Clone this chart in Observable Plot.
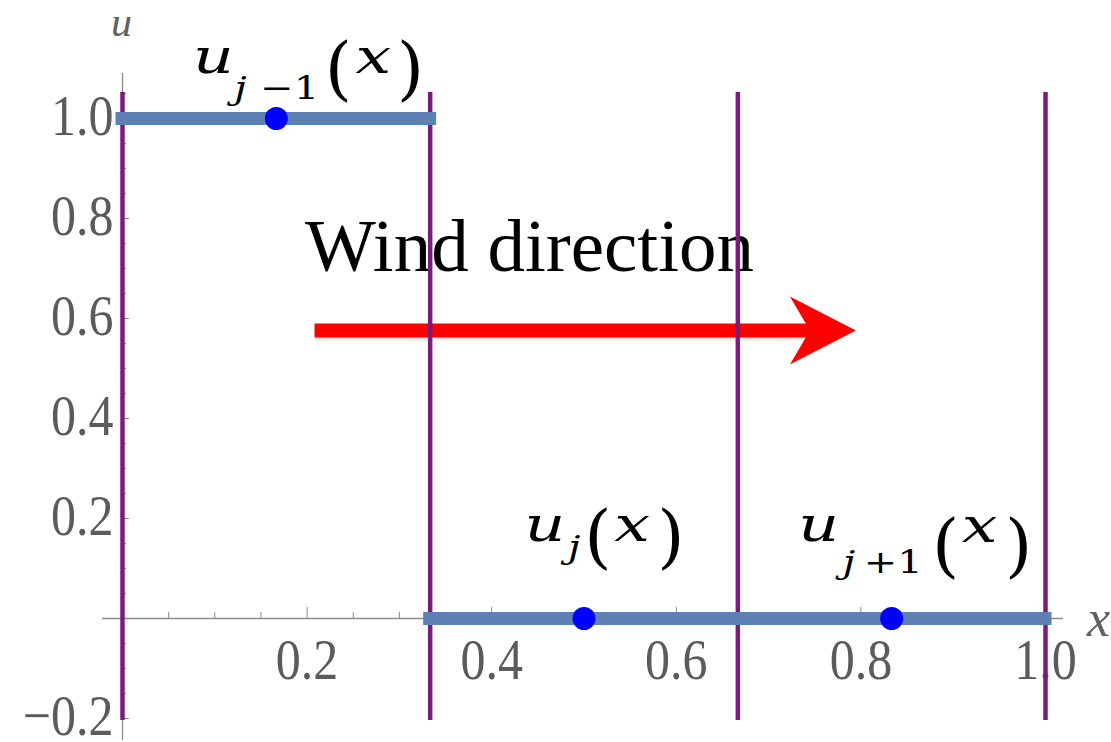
<!DOCTYPE html>
<html>
<head>
<meta charset="utf-8">
<script src="https://cdn.jsdelivr.net/npm/d3@7"></script>
<script src="https://cdn.jsdelivr.net/npm/@observablehq/plot@0.6"></script>
<style>
  body { margin: 0; background: #fff; }
  svg { display: block; }
</style>
</head>
<body>
<div id="chart"></div>
<script>
// Piecewise-constant solution on a uniform three-cell grid
const cellEdges = [0, 1/3, 2/3, 1];
const cellValues = [1, 0, 0];
const cellSubscripts = ["j−1", "j", "j+1"];

// Axis ticks
const xTickValues = [0.2, 0.4, 0.6, 0.8, 1.0];
const xTickLabels = ["0.2", "0.4", "0.6", "0.8", "1.0"];
const yTickValues = [-0.2, 0, 0.2, 0.4, 0.6, 0.8, 1.0];
const yTickLabels = ["−0.2", "", "0.2", "0.4", "0.6", "0.8", "1.0"];

// Wind arrow (start, tip, height in data units)
const windArrow = [{from: 0.2086, to: 0.7946, u: 0.576}];
const windText = "Wind direction";

const W = 1111, H = 742;
const ml = 122, mr = 66, mt = 118, mb = 24;
const xDomain = [0, 1], yDomain = [-0.2, 1];
const pxX = (xDomain[1] - xDomain[0]) / (W - ml - mr);
const pxY = (yDomain[1] - yDomain[0]) / (H - mt - mb);

const cells = cellValues.map((v, i) => ({
  x1: cellEdges[i],
  x2: cellEdges[i + 1],
  xc: (cellEdges[i] + cellEdges[i + 1]) / 2,
  u: v,
  sub: cellSubscripts[i]
}));

const xMinor = d3.range(1, 21).map(i => i / 20).filter(v => !xTickValues.some(t => Math.abs(t - v) < 1e-9));
const yMinor = d3.range(-4, 22).map(i => i / 20).filter(v => !yTickValues.some(t => Math.abs(t - v) < 1e-9));

const serif = "'Liberation Serif', 'Times New Roman', Times, serif";
const mathFont = "'DejaVu Serif', serif";
const axisGray = "#8a8a8a";
const labelGray = "#5b5b5b";
const purple = "#7b1c7c";
const stepBlue = "#5e81b5";
// near-black inks used to pick out the wide math glyphs after rendering
const mathInk = "#000001";
const subInk = "#000002";

// Filled arrowhead with a notched back, tip at the origin
const arrowHead = {
  draw(ctx) {
    ctx.moveTo(0, 0);
    ctx.lineTo(-66, -34);
    ctx.lineTo(-46, 0);
    ctx.lineTo(-66, 34);
    ctx.closePath();
  }
};

// Offsets (px) of the label pieces relative to each cell's dot
const labelLayout = [
  {u: [-63, -46], j: [-42, -20], op: [-16, -20], lp: [62, -27], x: [97, -46], rp: [134, -27]},
  {u: [-39, -78], j: [-16, -61], op: null,       lp: [14, -59], x: [48, -78], rp: [87, -59]},
  {u: [-73, -78], j: [-49, -46], op: [-28, -46], lp: [54, -50], x: [88, -77], rp: [127, -50]}
];

const labelMarks = cells.flatMap((c, i) => {
  const L = labelLayout[i];
  const base = {x: "xc", y: "u", fontFamily: mathFont, lineAnchor: "bottom"};
  const marks = [
    Plot.text([c], {...base, text: () => "u", dx: L.u[0], dy: L.u[1], fontSize: 48, fontStyle: "italic", fill: mathInk}),
    Plot.text([c], {...base, text: d => d.sub[0], dx: L.j[0], dy: L.j[1], fontSize: 32, fontStyle: "italic", textAnchor: "start", fill: subInk}),
    Plot.text([c], {...base, text: () => "(", dx: L.lp[0], dy: L.lp[1], fontSize: 70, fill: "#000"}),
    Plot.text([c], {...base, text: () => "x", dx: L.x[0], dy: L.x[1], fontSize: 48, fontStyle: "italic", fill: mathInk}),
    Plot.text([c], {...base, text: () => ")", dx: L.rp[0], dy: L.rp[1], fontSize: 70, fill: "#000"})
  ];
  if (L.op) {
    marks.push(Plot.text([c], {...base, text: d => d.sub.slice(1), dx: L.op[0], dy: L.op[1], fontSize: 32, textAnchor: "start", fill: subInk}));
  }
  return marks;
});

const chart = Plot.plot({
  width: W,
  height: H,
  marginLeft: ml,
  marginRight: mr,
  marginTop: mt,
  marginBottom: mb,
  style: {background: "#fff", overflow: "visible"},
  x: {domain: xDomain, axis: null},
  y: {domain: yDomain, axis: null},
  marks: [
    // wind arrow and its caption
    Plot.ruleY(windArrow, {y: "u", x1: "from", x2: d => d.to - 44 * pxX, stroke: "#000", strokeOpacity: 0.1, strokeWidth: 10, dy: 5}),
    Plot.ruleY(windArrow, {y: "u", x1: "from", x2: d => d.to - 44 * pxX, stroke: "#ff0000", strokeWidth: 14}),
    Plot.dot(windArrow, {x: "to", y: "u", symbol: arrowHead, fill: "#ff0000", stroke: "none", r: 10}),
    Plot.text(windArrow, {x: "from", y: "u", text: () => windText, dx: -10, dy: -60, textAnchor: "start", lineAnchor: "bottom",
      fontFamily: serif, fontSize: 75, fill: "#000"}),

    // axes through the origin
    Plot.ruleY([0], {x1: -20 * pxX, x2: 1 + 18 * pxX, stroke: axisGray, strokeWidth: 1.3}),
    Plot.ruleX([0], {y1: -0.2 - 22 * pxY, y2: 1 + 45 * pxY, stroke: axisGray, strokeWidth: 1.3}),
    Plot.ruleX(xMinor, {x: d => d, y1: 0, y2: 6 * pxY, stroke: axisGray, strokeWidth: 1}),
    Plot.ruleX(xTickValues, {x: d => d, y1: 0, y2: 11 * pxY, stroke: axisGray, strokeWidth: 1}),
    Plot.ruleY(yMinor, {y: d => d, x1: 0, x2: 4 * pxX, stroke: axisGray, strokeWidth: 1}),
    Plot.ruleY(yTickValues, {y: d => d, x1: 0, x2: 7 * pxX, stroke: axisGray, strokeWidth: 1}),

    // tick labels
    Plot.text(xTickValues, {x: d => d, y: 0, text: (d, i) => xTickLabels[i], dy: 42, lineAnchor: "middle",
      fontFamily: serif, fontSize: 50, fill: labelGray}),
    Plot.text(yTickValues, {x: 0, y: d => d, text: (d, i) => yTickLabels[i], dx: -9, dy: -2, textAnchor: "end", lineAnchor: "middle",
      fontFamily: serif, fontSize: 50, fill: labelGray}),

    // axis names
    Plot.text(["x"], {x: 1, y: 0, text: d => d, dx: 53, dy: 17, lineAnchor: "bottom",
      fontFamily: serif, fontStyle: "italic", fontSize: 52, fill: "#606060"}),
    Plot.text(["u"], {x: 0, y: 1, text: d => d, dx: -1, dy: -83, lineAnchor: "bottom",
      fontFamily: serif, fontStyle: "italic", fontSize: 42, fill: "#606060"}),

    // cell interfaces
    Plot.ruleX(cellEdges, {x: d => d, y1: -0.2 - 2 * pxY, y2: 1 + 26 * pxY, stroke: purple, strokeWidth: 4.5}),

    // cell values and cell centres
    Plot.ruleY(cells, {y: "u", x1: "x1", x2: "x2", stroke: stepBlue, strokeWidth: 13, strokeLinecap: "square"}),
    Plot.dot(cells, {x: "xc", y: "u", r: 11.5, fill: "#0000ff", stroke: "none"}),

    ...labelMarks
  ]
});

// Widen or heighten glyphs in place about their anchor points
function stretch(selector, sx, sy) {
  d3.select(chart).selectAll(selector).attr("transform", function () {
    return (this.getAttribute("transform") || "") + ` scale(${sx},${sy})`;
  });
}
stretch(`g[fill="${labelGray}"] text`, 1, 1.15);
stretch(`g[fill="${mathInk}"] text`, 1.32, 1);
stretch(`g[fill="${subInk}"] text`, 1.25, 1);

document.getElementById("chart").appendChild(chart);
</script>
</body>
</html>
